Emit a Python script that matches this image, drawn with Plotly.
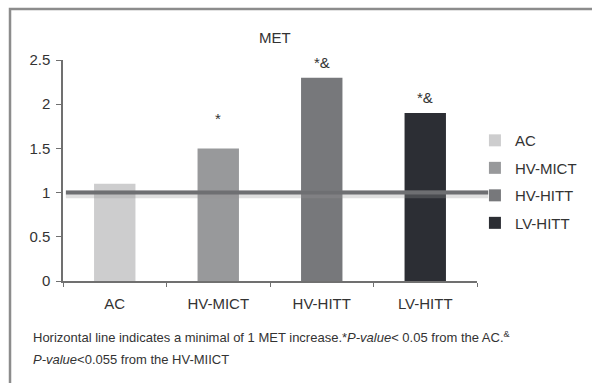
import plotly.graph_objects as go

# Mean MET by training group
groups = ["AC", "HV-MICT", "HV-HITT", "LV-HITT"]
met = [1.1, 1.5, 2.3, 1.9]
colors = ["#cdcdce", "#98999b", "#77787b", "#2c2e34"]
marks = ["", "*", "*&", "*&"]
ref_met = 1.0
y_ticks = [0, 0.5, 1, 1.5, 2, 2.5]
y_tick_text = ["0", "0.5", "1", "1.5", "2", "2.5"]

FONT = "Liberation Sans, Arial, sans-serif"
TXT = "#333333"

fig = go.Figure()
for g, v, c in zip(groups, met, colors):
    fig.add_trace(go.Bar(
        x=[g], y=[v], name=g, width=0.4,
        marker=dict(color=c, line=dict(width=0)),
        legendgroup=g,
    ))

# significance markers above the bars
shifts = {"*": 19, "*&": 5}
for g, v, m in zip(groups, met, marks):
    if m:
        fig.add_annotation(x=g, y=v, xref="x", yref="y", text=m, showarrow=False,
                           yanchor="bottom", yshift=shifts[m],
                           font=dict(family=FONT, size=15, color=TXT))

# reference line at 1 MET, with a soft shadow underneath
fig.add_shape(type="line", xref="paper", yref="y", x0=0.007, x1=1.027,
              y0=ref_met - 0.02, y1=ref_met - 0.02,
              line=dict(color="rgba(150,150,150,0.3)", width=8), layer="above")
fig.add_shape(type="line", xref="paper", yref="y", x0=0.007, x1=1.027,
              y0=ref_met, y1=ref_met,
              line=dict(color="#6e6f72", width=4), layer="above")

# outer frame
fig.add_shape(type="rect", xref="paper", yref="paper", x0=-0.128, x1=1.35,
              y0=-0.55, y1=1.231, line=dict(color="#8c8c8c", width=2.5),
              fillcolor="rgba(0,0,0,0)", layer="below")

fig.add_annotation(x=0.512, y=1.10, xref="paper", yref="paper", text="MET",
                   showarrow=False, yanchor="middle",
                   font=dict(family=FONT, size=15, color=TXT))

fig.add_annotation(x=-0.077, y=-0.253, xref="paper", yref="paper",
                   xanchor="left", yanchor="middle",
                   text="Horizontal line indicates a minimal of 1 MET increase.*<i>P-value</i>< 0.05 from the AC.<sup>&</sup>",
                   showarrow=False, font=dict(family=FONT, size=13, color=TXT))
fig.add_annotation(x=-0.077, y=-0.353, xref="paper", yref="paper",
                   xanchor="left", yanchor="middle",
                   text="<i>P-value</i><0.055 from the HV-MIICT",
                   showarrow=False, font=dict(family=FONT, size=13, color=TXT))

fig.update_layout(
    width=592, height=383,
    margin=dict(l=63, r=115, t=60, b=102, autoexpand=False),
    paper_bgcolor="white", plot_bgcolor="white",
    barmode="overlay",
    font=dict(family=FONT, size=15, color=TXT),
    showlegend=True,
    legend=dict(x=0.995, y=0.71, xanchor="left", yanchor="top",
                tracegroupgap=5, font=dict(family=FONT, size=15, color=TXT),
                itemwidth=30, bgcolor="rgba(0,0,0,0)"),
    xaxis=dict(range=[-0.5, 3.5], showline=True, linecolor="#707070", linewidth=1.5,
               ticks="outside", tickson="boundaries", ticklen=4, tickcolor="#707070",
               ticklabelstandoff=8,
               showgrid=False, zeroline=False, tickfont=dict(size=15, color=TXT)),
    yaxis=dict(range=[0, 2.5], tickvals=y_ticks, ticktext=y_tick_text,
               showline=True, linecolor="#707070", linewidth=1.5,
               ticks="outside", ticklen=5, tickcolor="#707070",
               ticklabelstandoff=3,
               showgrid=False, zeroline=False, tickfont=dict(size=15, color=TXT)),
)

fig.write_html("out.html")
